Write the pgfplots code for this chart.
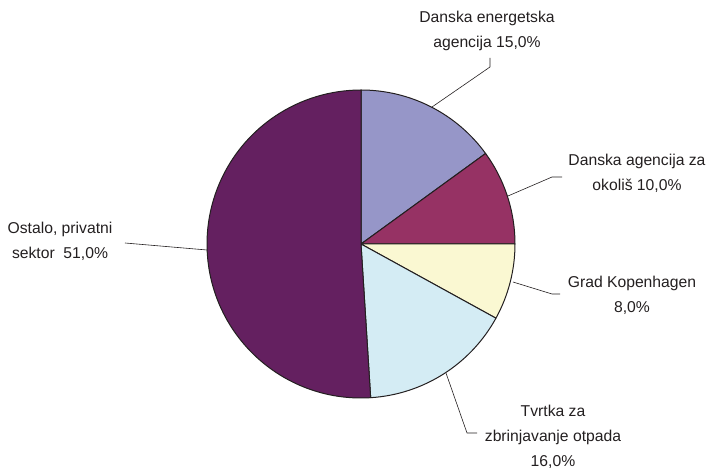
\documentclass[border=0pt]{standalone}
\usepackage{pgfplots}
\pgfplotsset{compat=1.18}
\usepackage{fontspec}
\setmainfont{Liberation Sans}
\definecolor{sliceA}{RGB}{150,150,200}
\definecolor{sliceB}{RGB}{150,50,100}
\definecolor{sliceC}{RGB}{250,248,210}
\definecolor{sliceD}{RGB}{212,236,244}
\definecolor{sliceE}{RGB}{100,32,96}
\definecolor{edge}{RGB}{35,31,32}
\tikzset{
    lbl/.style={align=center, inner sep=0pt, text=edge,
        font=\fontsize{15.7bp}{25bp}\selectfont},
    leader/.style={draw=edge, line width=0.6bp}
}
\begin{document}
\begin{tikzpicture}
\begin{axis}[
    width=710bp, height=473bp, scale only axis,
    xmin=0, xmax=710, ymin=0, ymax=473,
    hide axis, clip=false
]
% shares in %, clockwise from 12 o'clock
\pgfplotsextra{
    \foreach \v/\c [evaluate=\v as \e using \s-3.6*\v, remember=\e as \s (initially 90)]
        in {15/sliceA, 10/sliceB, 8/sliceC, 16/sliceD, 51/sliceE}{
        \filldraw[fill=\c, draw=edge, line width=1bp, line join=round]
            (axis cs:361,229) -- ++(\s:154bp)
            arc[start angle=\s, end angle=\e, radius=154bp] -- cycle;
    }
}
\draw[leader] (axis cs:490,415) -- (axis cs:490,406) -- (axis cs:432,366);
\draw[leader] (axis cs:562,296) -- (axis cs:552,296) -- (axis cs:508,277);
\draw[leader] (axis cs:513,191) -- (axis cs:552,179) -- (axis cs:560,179);
\draw[leader] (axis cs:125,230) -- (axis cs:207,223);
\draw[leader] (axis cs:446,100) -- (axis cs:467,40) -- (axis cs:477,40);
\node[lbl] at (axis cs:487,442) {Danska energetska\\agencija 15,0\%};
\node[lbl] at (axis cs:637,300) {Danska agencija za\\okoliš 10,0\%};
\node[lbl] at (axis cs:632,178) {Grad Kopenhagen\\8,0\%};
\node[lbl] at (axis cs:60,232) {Ostalo, privatni\\sektor\ \ 51,0\%};
\node[lbl] at (axis cs:553,36) {Tvrtka za\\zbrinjavanje otpada\\16,0\%};
\end{axis}
\pgfresetboundingbox
\useasboundingbox (0,0) rectangle (710bp,473bp);
\end{tikzpicture}
\end{document}
